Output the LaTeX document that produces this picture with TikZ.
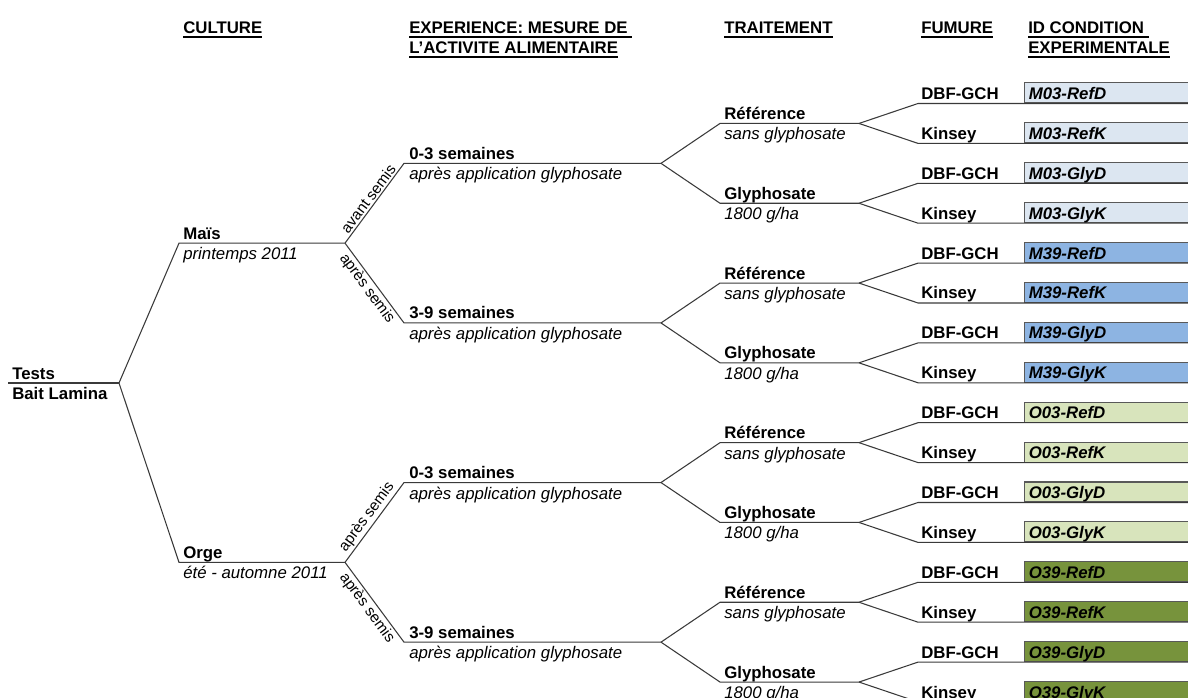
\documentclass[tikz,border=0pt]{standalone}
\usepackage{fontspec}
\setmainfont{Liberation Sans}
\definecolor{linegray}{HTML}{3A3A3A}
\definecolor{mA}{HTML}{DCE6F1}
\definecolor{mB}{HTML}{8DB4E2}
\definecolor{oA}{HTML}{D8E4BC}
\definecolor{oB}{HTML}{77933C}
\newcommand\hdrul[1]{\setbox0\hbox{#1}\leavevmode\rlap{\rule[-3.4pt]{\wd0}{1.5pt}}\box0}
\tikzset{
  tree/.style={draw=linegray, line width=0.8pt},
  hd/.style={anchor=base west, inner sep=0pt, font=\fontsize{12.6}{15}\selectfont\bfseries},
  lab/.style={anchor=base west, inner sep=0pt, font=\fontsize{12.6}{15}\selectfont\bfseries},
  sub/.style={anchor=base west, inner sep=0pt, font=\fontsize{12.6}{15}\selectfont\itshape},
  rot/.style={font=\fontsize{11.4}{13}\selectfont, sloped, midway, inner sep=1.5pt},
  idbox/.style={draw=black!65, line width=0.8pt, anchor=south west, minimum height=15pt, minimum width=140pt, inner sep=0pt},
  idtxt/.style={anchor=base west, inner sep=0pt, font=\fontsize{12.6}{15}\selectfont\bfseries\itshape},
}
\begin{document}
\begin{tikzpicture}[x=0.75pt,y=-0.75pt]
\useasboundingbox (0,0) rectangle (1188,698);
\clip (0,0) rectangle (1188,698);
% headers
\node[hd] (h1) at (183,33.3) {\hdrul{CULTURE}};
\node[hd] (h2a) at (409,33.3) {\hdrul{EXPERIENCE: MESURE DE\ }};
\node[hd] (h2b) at (409,53.3) {\hdrul{L'ACTIVITE ALIMENTAIRE}};
\node[hd] (h3) at (724,33.3) {\hdrul{TRAITEMENT}};
\node[hd] (h4) at (921,33.3) {\hdrul{FUMURE}};
\node[hd] (h5a) at (1028,33.3) {\hdrul{ID CONDITION\ }};
\node[hd] (h5b) at (1028,53.3) {\hdrul{EXPERIMENTALE}};
% root
\coordinate (r0) at (8,383);
\coordinate (r1) at (119,383);
\draw[tree] (r0) -- (r1);
\node[lab] (tests) at (12,379) {Tests};
\node[lab] (bait) at (12,399.5) {Bait Lamina};
% culture
\foreach \m/\nm/\sb in {0/Maïs/printemps 2011, 1/Orge/été - automne 2011} {
  \pgfmathsetmacro\y{243.15+319.2*\m}
  \coordinate (c\m-a) at (179,\y);
  \coordinate (c\m-b) at (345,\y);
  \draw[tree] (r1) -- (c\m-a) -- (c\m-b);
  \node[lab] (cl\m) at (183,\y-4) {\nm};
  \node[sub] (cs\m) at (183,\y+16.5) {\sb};
}
% semaines
\foreach \i/\wk in {0/0-3, 1/3-9, 2/0-3, 3/3-9} {
  \pgfmathsetmacro\y{163.35+159.6*\i}
  \pgfmathtruncatemacro\m{\i/2}
  \coordinate (s\i-a) at (404,\y);
  \coordinate (s\i-b) at (661,\y);
  \draw[tree] (c\m-b) -- (s\i-a) -- (s\i-b);
  \node[lab] (sl\i) at (409,\y-4) {\wk\ semaines};
  \node[sub] (ss\i) at (409,\y+16.5) {après application glyphosate};
}
\path (c0-b) -- node[rot,above] (rl0) {avant semis} (s0-a);
\path (c0-b) -- node[rot,below] (rl1) {après semis} (s1-a);
\path (c1-b) -- node[rot,above] (rl2) {après semis} (s2-a);
\path (c1-b) -- node[rot,below] (rl3) {après semis} (s3-a);
% traitement
\foreach \j in {0,...,7} {
  \pgfmathsetmacro\y{123.45+79.8*\j}
  \pgfmathtruncatemacro\i{\j/2}
  \coordinate (t\j-a) at (720,\y);
  \coordinate (t\j-b) at (859,\y);
  \draw[tree] (s\i-b) -- (t\j-a) -- (t\j-b);
  \ifodd\j\relax
    \node[lab] (tl\j) at (724,\y-4) {Glyphosate};
    \node[sub] (ts\j) at (724,\y+16.5) {1800 g/ha};
  \else
    \node[lab] (tl\j) at (724,\y-4) {Référence};
    \node[sub] (ts\j) at (724,\y+16.5) {sans glyphosate};
  \fi
}
% fumure + id
\foreach \k/\id/\col in {0/M03-RefD/mA, 1/M03-RefK/mA, 2/M03-GlyD/mA, 3/M03-GlyK/mA,
  4/M39-RefD/mB, 5/M39-RefK/mB, 6/M39-GlyD/mB, 7/M39-GlyK/mB,
  8/O03-RefD/oA, 9/O03-RefK/oA, 10/O03-GlyD/oA, 11/O03-GlyK/oA,
  12/O39-RefD/oB, 13/O39-RefK/oB, 14/O39-GlyD/oB, 15/O39-GlyK/oB} {
  \pgfmathsetmacro\y{103.5+39.9*\k}
  \pgfmathtruncatemacro\j{\k/2}
  \coordinate (f\k-a) at (918,\y);
  \coordinate (f\k-b) at (1200,\y);
  \node[idbox, fill=\col] (id\k) at (1024,\y) {};
  \draw[tree] (t\j-b) -- (f\k-a) -- (f\k-b);
  \ifodd\k\relax
    \node[lab] (fl\k) at (921,\y-4) {Kinsey};
  \else
    \node[lab] (fl\k) at (921,\y-4) {DBF-GCH};
  \fi
  \node[idtxt] (it\k) at (1028.5,\y-4) {\id};
}
\end{tikzpicture}
\end{document}
